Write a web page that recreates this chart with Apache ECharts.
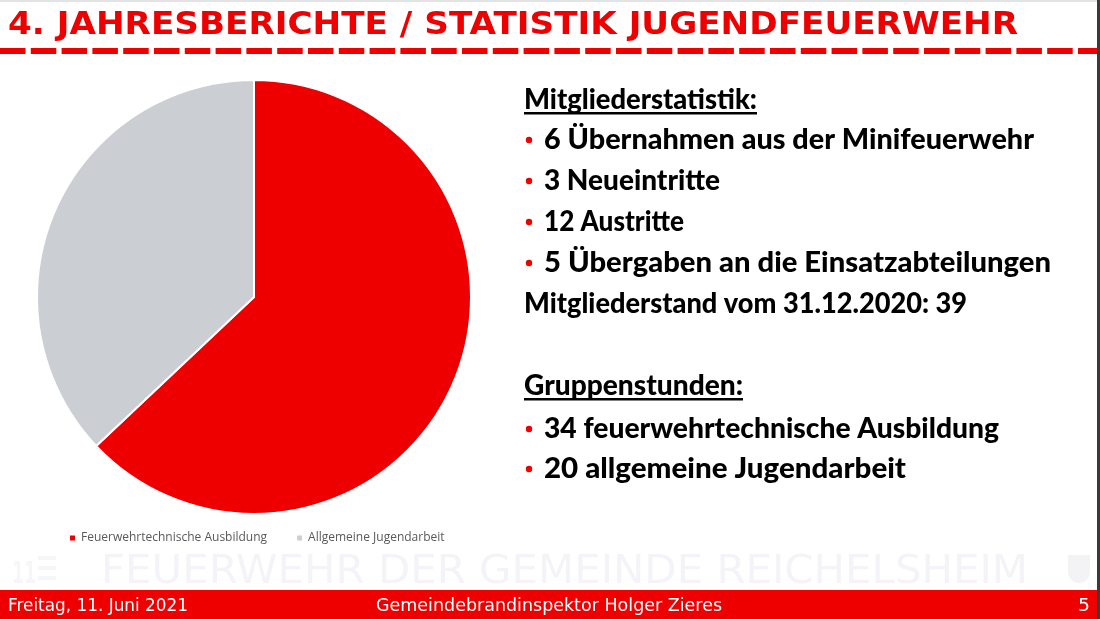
<!DOCTYPE html>
<html>
<head>
<meta charset="utf-8">
<script src="https://cdn.jsdelivr.net/npm/echarts@6/dist/echarts.min.js"></script>
<style>
html,body{margin:0;padding:0;background:#fff;}
#chart{width:1100px;height:619px;}
</style>
</head>
<body>
<div id="chart"></div>
<script>
// ---- data ----
const categories = ['Feuerwehrtechnische Ausbildung', 'Allgemeine Jugendarbeit'];
const values = [34, 20];
const titleText = '4. JAHRESBERICHTE / STATISTIK JUGENDFEUERWEHR';
const watermarkText = 'FEUERWEHR DER GEMEINDE REICHELSHEIM';
const footerLeft = 'Freitag, 11. Juni 2021';
const footerCenter = 'Gemeindebrandinspektor Holger Zieres';
const footerRight = '5';
const textLines = [
  {t: 'Mitgliederstatistik:', kind: 'head'},
  {t: '6 Übernahmen aus der Minifeuerwehr', kind: 'bullet'},
  {t: '3 Neueintritte', kind: 'bullet'},
  {t: '12 Austritte', kind: 'bullet'},
  {t: '5 Übergaben an die Einsatzabteilungen', kind: 'bullet'},
  {t: 'Mitgliederstand vom 31.12.2020: 39', kind: 'plain'},
  {t: 'Gruppenstunden:', kind: 'head'},
  {t: '34 feuerwehrtechnische Ausbildung', kind: 'bullet'},
  {t: '20 allgemeine Jugendarbeit', kind: 'bullet'}
];

// ---- layout ----
const RED = '#ee0000';
const GREY = '#cbcfd4';
const lineBaselines = [109, 149, 190, 231, 272, 313, 395, 438, 478];
const lineTargetW  = [233, 490, 176, 140, 507, 443, 219, 455, 362];

const ctx = document.createElement('canvas').getContext('2d');
function measure(text, font){ ctx.font = font; ctx.textBaseline = 'alphabetic'; return ctx.measureText(text).width; }
function midToBase(font){
  ctx.font = font; ctx.textBaseline = 'middle';
  const m = ctx.measureText('H');
  ctx.textBaseline = 'alphabetic';
  return m.actualBoundingBoxDescent; // distance from em-middle down to baseline
}
function fitText(text, font, x, baseline, targetW, fill, extra){
  const w = measure(text, font);
  const s = targetW / w;
  const y = baseline - midToBase(font);
  return Object.assign({
    type: 'text', x: x, y: y, scaleX: s, scaleY: 1,
    style: {text: text, x: 0, y: 0, font: font, fill: fill, textAlign: 'left', textVerticalAlign: 'middle'},
    silent: true
  }, extra || {});
}

const graphics = [];
// top thin line and right edge
graphics.push({type:'rect', shape:{x:0,y:0,width:1100,height:2}, style:{fill:'#e3e3e3'}, silent:true});
graphics.push({type:'rect', shape:{x:1097,y:0,width:3,height:619}, style:{fill:'#3a3a3a'}, silent:true, z:100});
// title
const titleFont = 'bold 32px "DejaVu Sans"';
graphics.push(fitText(titleText, titleFont, 8, 34, 1010, RED));
// dashed line
graphics.push({type:'line', shape:{x1:0,y1:51,x2:1097,y2:51},
  style:{stroke:RED, lineWidth:6, lineDash:[25.5,5.3]}, silent:true});
// watermark
graphics.push(fitText(watermarkText, '39px "DejaVu Sans"', 101, 583, 927, '#f4f4f8'));
graphics.push(fitText('11', 'bold 30px "DejaVu Sans"', 12, 583, 24, '#f6f6f8'));
graphics.push({type:'rect', shape:{x:38,y:556,width:18,height:4}, style:{fill:'#f6f6f8'}, silent:true});
graphics.push({type:'rect', shape:{x:38,y:566,width:18,height:4}, style:{fill:'#f6f6f8'}, silent:true});
graphics.push({type:'rect', shape:{x:38,y:576,width:18,height:4}, style:{fill:'#f6f6f8'}, silent:true});
graphics.push({type:'rect', shape:{x:1068,y:555,width:22,height:28, r:[0,0,11,11]}, style:{fill:'#f3f3f5'}, silent:true});
// footer bar
graphics.push({type:'rect', shape:{x:0,y:590,width:1100,height:29}, style:{fill:RED}, silent:true});
const footFont = '17px "DejaVu Sans"';
graphics.push(fitText(footerLeft, footFont, 8, 611, 180, '#fff'));
graphics.push(fitText(footerCenter, footFont, 376, 611, 346, '#fff'));
graphics.push(fitText(footerRight, footFont, 1078, 611, 12, '#fff'));

// right text block
const bodyFont = '900 29px Lato';
textLines.forEach(function(l, i){
  const y = lineBaselines[i];
  const x = l.kind === 'bullet' ? 544 : 524;
  graphics.push(fitText(l.t, bodyFont, x, y, lineTargetW[i], '#000'));
  if (l.kind === 'bullet') {
    graphics.push({type:'circle', shape:{cx:529, cy:y-9, r:3.2}, style:{fill:RED}, silent:true});
  }
  if (l.kind === 'head') {
    graphics.push({type:'rect', shape:{x:524, y:y+3, width:lineTargetW[i], height:2.5}, style:{fill:'#000'}, silent:true});
  }
});

const chart = echarts.init(document.getElementById('chart'));
chart.setOption({
  animation: false,
  backgroundColor: '#fff',
  color: [RED, GREY],
  legend: {
    left: 63, top: 527,
    icon: 'rect', itemWidth: 7, itemHeight: 7, itemGap: 28,
    textStyle: {fontFamily: '"Open Sans"', fontSize: 12, color: '#595959'},
    data: categories
  },
  series: [{
    type: 'pie',
    center: [254, 297],
    radius: 217,
    startAngle: 90,
    clockwise: true,
    label: {show: false},
    labelLine: {show: false},
    itemStyle: {borderColor: '#fff', borderWidth: 2},
    emphasis: {disabled: true},
    data: categories.map(function(c, i){ return {name: c, value: values[i]}; })
  }],
  graphic: graphics
});
</script>
</body>
</html>
